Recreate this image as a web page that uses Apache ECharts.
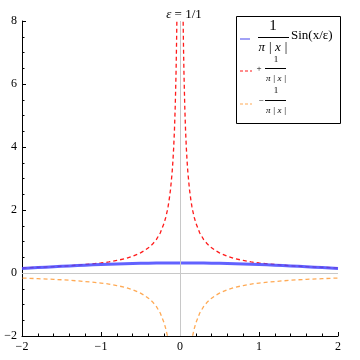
<!DOCTYPE html>
<html><head><meta charset="utf-8">
<script src="https://cdn.jsdelivr.net/npm/echarts@6/dist/echarts.min.js"></script>
<style>html,body{margin:0;padding:0;background:#fff}#c{width:360px;height:360px}</style>
</head><body><div id="c"></div>
<script>
// x positions (one side), mirrored for negative x
var xsPos = [0.035, 0.04, 0.045, 0.05, 0.06, 0.07, 0.08, 0.09, 0.1, 0.12, 0.14, 0.15, 0.16, 0.18, 0.2, 0.25, 0.3, 0.35, 0.4, 0.45, 0.5, 0.6, 0.7, 0.8, 0.9, 1.0, 1.2, 1.4, 1.6, 1.8, 2.0];
var plusVals = [9.09, 7.96, 7.07, 6.37, 5.31, 4.55, 3.98, 3.54, 3.18, 2.65, 2.27, 2.12, 1.99, 1.77, 1.59, 1.27, 1.06, 0.91, 0.80, 0.71, 0.64, 0.53, 0.45, 0.40, 0.35, 0.32, 0.27, 0.23, 0.20, 0.18, 0.16];
var minusVals = [-9.09, -7.96, -7.07, -6.37, -5.31, -4.55, -3.98, -3.54, -3.18, -2.65, -2.27, -2.12, -1.99, -1.77, -1.59, -1.27, -1.06, -0.91, -0.80, -0.71, -0.64, -0.53, -0.45, -0.40, -0.35, -0.32, -0.27, -0.23, -0.20, -0.18, -0.16];
var sincX = [-2.0, -1.8, -1.6, -1.4, -1.2, -1.0, -0.8, -0.6, -0.4, -0.2, 0, 0.2, 0.4, 0.6, 0.8, 1.0, 1.2, 1.4, 1.6, 1.8, 2.0];
var sincVals = [0.145, 0.173, 0.199, 0.224, 0.247, 0.268, 0.285, 0.300, 0.310, 0.316, 0.318, 0.316, 0.310, 0.300, 0.285, 0.268, 0.247, 0.224, 0.199, 0.173, 0.145];
var xTicks = [-2, -1, 0, 1, 2];
var yTicks = [-2, 0, 2, 4, 6, 8];

function side(vals, sign) {
  var out = [];
  for (var i = 0; i < xsPos.length; i++) out.push([sign * xsPos[i], vals[i]]);
  return out;
}
var plusLeft = side(plusVals, -1), plusRight = side(plusVals, 1);
var minusLeft = side(minusVals, -1), minusRight = side(minusVals, 1);
var sincData = sincX.map(function (x, i) { return [x, sincVals[i]]; });

var chart = echarts.init(document.getElementById('c'), null, {renderer: 'canvas'});
var serif = 'Liberation Serif';
var fmt = function (v) { return String(v).replace('-', '\u2212'); };
var red = '#ff1a1a', orange = '#ffaa55', blue = 'rgba(70,70,255,0.85)';
function dashed(data, color) {
  return {type: 'line', data: data, showSymbol: false, symbol: 'none', clip: true, silent: true,
    lineStyle: {color: color, width: 1.3, type: [4, 3]}, z: 3};
}
chart.setOption({
  animation: false,
  title: {
    text: '{i|\u03b5} = 1/1', left: 179, top: 3, textAlign: 'center',
    textStyle: {fontFamily: serif, fontSize: 13, fontWeight: 'normal', color: '#000',
      rich: {i: {fontFamily: serif, fontStyle: 'italic', fontSize: 13}}}
  },
  grid: {left: 22, right: 22, top: 21, bottom: 24},
  xAxis: {
    type: 'value', min: -2, max: 2, interval: 1,
    axisLine: {onZero: false, lineStyle: {color: '#000', width: 1}},
    axisTick: {inside: true, length: 4, lineStyle: {color: '#000'}},
    minorTick: {show: true, splitNumber: 5, length: 2.5, lineStyle: {color: '#000'}},
    splitLine: {show: false},
    axisLabel: {fontFamily: serif, fontSize: 12, color: '#000', margin: 5, formatter: fmt, showMinLabel: true, showMaxLabel: true}
  },
  yAxis: {
    type: 'value', min: -2, max: 8, interval: 2,
    axisLine: {onZero: false, lineStyle: {color: '#000', width: 1}},
    axisTick: {inside: true, length: 4, lineStyle: {color: '#000'}},
    minorTick: {show: true, splitNumber: 4, length: 2.5, lineStyle: {color: '#000'}},
    splitLine: {show: false},
    axisLabel: {fontFamily: serif, fontSize: 12, color: '#000', margin: 5, formatter: fmt}
  },
  series: [
    {type: 'line', data: [], silent: true,
      markLine: {silent: true, symbol: 'none', label: {show: false},
        lineStyle: {color: '#c8c8c8', width: 1, type: 'solid'},
        data: [{xAxis: 0}, {yAxis: 0}]}},
    dashed(plusLeft, red), dashed(plusRight, red),
    dashed(minusLeft, orange), dashed(minusRight, orange),
    {type: 'line', data: sincData, showSymbol: false, symbol: 'none', smooth: true, silent: true,
      lineStyle: {color: blue, width: 3}, z: 4}
  ],
  graphic: [
    {type: 'rect', shape: {x: 236.5, y: 16.5, width: 104, height: 107}, style: {fill: '#fff', stroke: '#000', lineWidth: 1}, z: 10},
    {type: 'line', shape: {x1: 240, y1: 39, x2: 250, y2: 39}, style: {stroke: 'rgba(100,100,240,0.8)', lineWidth: 1.5}, z: 11},
    {type: 'text', x: 273, y: 26, style: {text: '1', font: '15px "Liberation Serif"', fill: '#000', align: 'center', verticalAlign: 'middle'}, z: 11},
    {type: 'line', shape: {x1: 258, y1: 37.5, x2: 289, y2: 37.5}, style: {stroke: '#000', lineWidth: 1}, z: 11},
    {type: 'text', x: 273, y: 48, style: {text: '\u03c0 | x |', font: 'italic 13px "Liberation Serif"', fill: '#000', align: 'center', verticalAlign: 'middle'}, z: 11},
    {type: 'text', x: 291, y: 36, style: {text: 'Sin(x/\u03b5)', font: '13px "Liberation Serif"', fill: '#000', align: 'left', verticalAlign: 'middle'}, z: 11},
    {type: 'line', shape: {x1: 240, y1: 71, x2: 252, y2: 71}, style: {stroke: red, lineWidth: 1.2, lineDash: [3, 2]}, z: 11},
    {type: 'text', x: 259, y: 69, style: {text: '+', font: '9px "Liberation Serif"', fill: '#000', align: 'center', verticalAlign: 'middle'}, z: 11},
    {type: 'text', x: 276, y: 60, style: {text: '1', font: '9px "Liberation Serif"', fill: '#000', align: 'center', verticalAlign: 'middle'}, z: 11},
    {type: 'line', shape: {x1: 265, y1: 68.5, x2: 286, y2: 68.5}, style: {stroke: '#000', lineWidth: 1}, z: 11},
    {type: 'text', x: 276, y: 79, style: {text: '\u03c0 | x |', font: 'italic 9px "Liberation Serif"', fill: '#000', align: 'center', verticalAlign: 'middle'}, z: 11},
    {type: 'line', shape: {x1: 240, y1: 104, x2: 252, y2: 104}, style: {stroke: orange, lineWidth: 1.2, lineDash: [3, 2]}, z: 11},
    {type: 'text', x: 261, y: 101, style: {text: '\u2212', font: '9px "Liberation Serif"', fill: '#000', align: 'center', verticalAlign: 'middle'}, z: 11},
    {type: 'text', x: 276, y: 91, style: {text: '1', font: '9px "Liberation Serif"', fill: '#000', align: 'center', verticalAlign: 'middle'}, z: 11},
    {type: 'line', shape: {x1: 265, y1: 100.5, x2: 286, y2: 100.5}, style: {stroke: '#000', lineWidth: 1}, z: 11},
    {type: 'text', x: 276, y: 111, style: {text: '\u03c0 | x |', font: 'italic 9px "Liberation Serif"', fill: '#000', align: 'center', verticalAlign: 'middle'}, z: 11}
  ]
});
</script></body></html>
